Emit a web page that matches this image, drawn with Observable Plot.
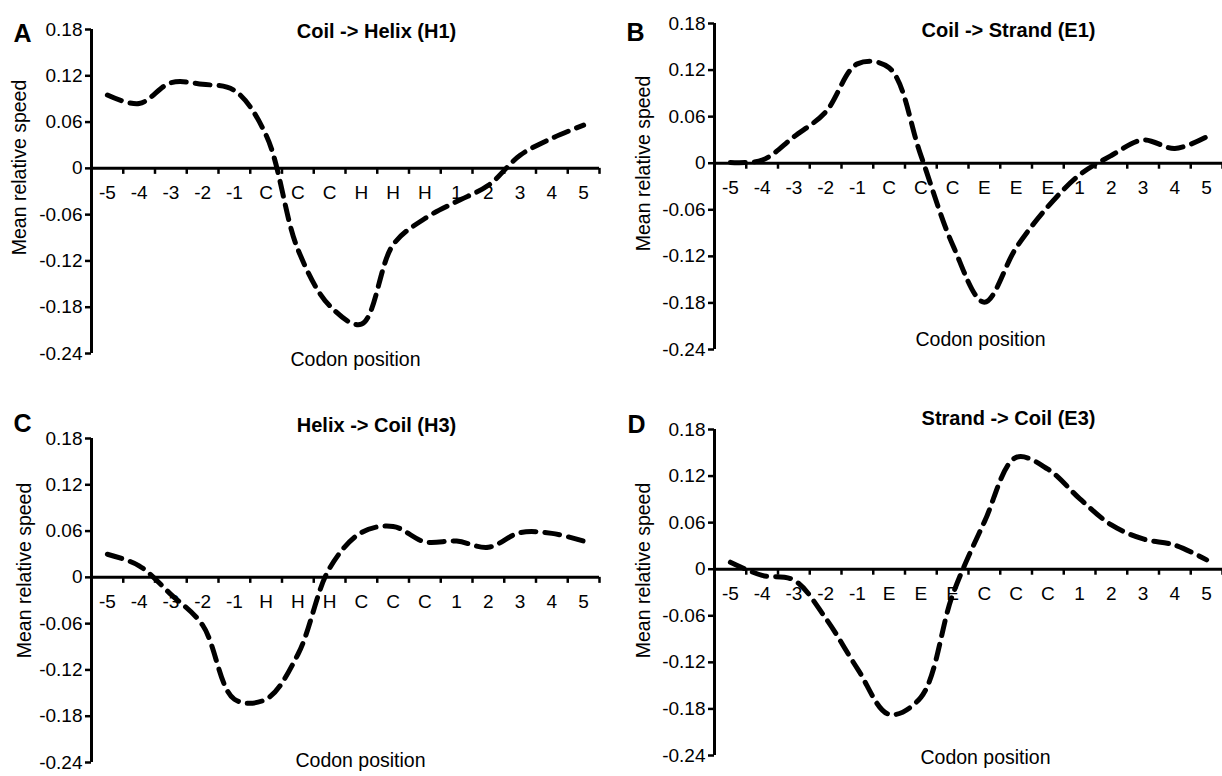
<!DOCTYPE html>
<html>
<head>
<meta charset="utf-8">
<script src="https://cdn.jsdelivr.net/npm/d3@7"></script>
<script src="https://cdn.jsdelivr.net/npm/@observablehq/plot@0.6"></script>
<style>
  html, body { margin: 0; padding: 0; background: #fff; }
  #wrap { position: relative; width: 1222px; height: 776px; overflow: hidden; background: #fff; }
  .panel { position: absolute; width: 611px; height: 388px; }
  .panel svg { overflow: visible; }
</style>
</head>
<body>
<div id="wrap">
  <div class="panel" id="pA" style="left:0;top:0"></div>
  <div class="panel" id="pB" style="left:611px;top:0"></div>
  <div class="panel" id="pC" style="left:0;top:388px"></div>
  <div class="panel" id="pD" style="left:611px;top:388px"></div>
</div>
<script>
// ---- data ----
const letters = ["A", "B", "C", "D"];
const titles = ["Coil -> Helix (H1)", "Coil -> Strand (E1)", "Helix -> Coil (H3)", "Strand -> Coil (E3)"];
const yLabel = "Mean relative speed";
const xLabel = "Codon position";

const positionsA = ["-5","-4","-3","-2","-1","C","C","C","H","H","H","1","2","3","4","5"];
const positionsB = ["-5","-4","-3","-2","-1","C","C","C","E","E","E","1","2","3","4","5"];
const positionsC = ["-5","-4","-3","-2","-1","H","H","H","C","C","C","1","2","3","4","5"];
const positionsD = ["-5","-4","-3","-2","-1","E","E","E","C","C","C","1","2","3","4","5"];

const speedA = [0.095, 0.084, 0.111, 0.109, 0.101, 0.043, -0.105, -0.178, -0.202, -0.099, -0.065, -0.043, -0.022, 0.017, 0.039, 0.056];
const speedB = [0.001, 0.004, 0.034, 0.066, 0.128, 0.123, 0.010, -0.105, -0.179, -0.109, -0.056, -0.015, 0.010, 0.030, 0.019, 0.034];
const speedC = [0.030, 0.015, -0.022, -0.062, -0.158, -0.158, -0.100, 0.012, 0.058, 0.066, 0.046, 0.047, 0.039, 0.058, 0.057, 0.047];
const speedD = [0.009, -0.008, -0.014, -0.063, -0.128, -0.187, -0.165, -0.033, 0.061, 0.144, 0.129, 0.091, 0.057, 0.039, 0.031, 0.012];

const yTicks = [0.18, 0.12, 0.06, 0, -0.06, -0.12, -0.18, -0.24];
const yTickLabels = ["0.18", "0.12", "0.06", "0", "-0.06", "-0.12", "-0.18", "-0.24"];
const boundaries = [1, 2, 3, 4, 5, 6, 7, 8, 9, 10, 11, 12, 13, 14, 15, 16];

// ---- layout (per panel) ----
const FONT = "'Liberation Sans', Arial, Helvetica, sans-serif";
const layouts = [
  {id: "pA", positions: positionsA, values: speedA, mL: 91, mR: 12, mT: 29, mB: 35,
   letter: [-69, -5], title: [31, -6], ylab: [-72, -24], xlab: [10, 12]},
  {id: "pB", positions: positionsB, values: speedB, mL: 103, mR: 0, mT: 23, mB: 39,
   letter: [-79, 0], title: [40, -1], ylab: [-71, -23], xlab: [12, -4]},
  {id: "pC", positions: positionsC, values: speedC, mL: 91, mR: 12, mT: 50, mB: 14,
   letter: [-69, -24], title: [31, -21], ylab: [-67, -30], xlab: [15, 4]},
  {id: "pD", positions: positionsD, values: speedD, mL: 103, mR: 0, mT: 41, mB: 21,
   letter: [-78, -14], title: [40, -19], ylab: [-71, -22], xlab: [17, 8]}
];

layouts.forEach((L, k) => {
  const chart = Plot.plot({
    width: 611,
    height: 388,
    marginLeft: L.mL,
    marginRight: L.mR,
    marginTop: L.mT,
    marginBottom: L.mB,
    style: {fontFamily: FONT, background: "white", color: "black", overflow: "visible"},
    x: {domain: [0, 16], axis: null},
    y: {domain: [-0.24, 0.18], axis: null},
    marks: [
      Plot.axisY(yTicks, {
        anchor: "left", label: null, tickSize: 6, tickPadding: 3,
        fontSize: 19, strokeWidth: 2.5,
        tickFormat: d => yTickLabels[yTicks.indexOf(d)]
      }),
      Plot.ruleX([0], {strokeWidth: 3}),
      Plot.ruleY([0], {strokeWidth: 3}),
      Plot.ruleX(boundaries, {x: d => d, y1: () => 0, y2: () => 0, insetBottom: -6, strokeWidth: 2.5}),
      Plot.text(L.positions, {
        x: (d, i) => i + 0.5, y: () => 0, text: d => d,
        dy: 25, fontSize: 19, fill: "black"
      }),
      Plot.text([letters[k]], {
        frameAnchor: "top-left", text: d => d, dx: L.letter[0], dy: L.letter[1],
        fontSize: 25, fontWeight: "bold", textAnchor: "middle", fill: "black"
      }),
      Plot.text([titles[k]], {
        frameAnchor: "top", text: d => d, dx: L.title[0], dy: L.title[1],
        fontSize: 20, fontWeight: "bold", textAnchor: "middle", fill: "black"
      }),
      Plot.text([yLabel], {
        frameAnchor: "left", text: d => d, dx: L.ylab[0], dy: L.ylab[1],
        rotate: -90, fontSize: 19.5, textAnchor: "middle", fill: "black"
      }),
      Plot.text([xLabel], {
        frameAnchor: "bottom", text: d => d, dx: L.xlab[0], dy: L.xlab[1],
        fontSize: 19.5, textAnchor: "middle", fill: "black"
      }),
      Plot.line(L.values, {
        x: (d, i) => i + 0.5, y: d => d,
        curve: "catmull-rom", stroke: "black", strokeWidth: 5,
        strokeDasharray: "15,9"
      })
    ]
  });
  document.getElementById(L.id).appendChild(chart);
});
</script>
</body>
</html>
